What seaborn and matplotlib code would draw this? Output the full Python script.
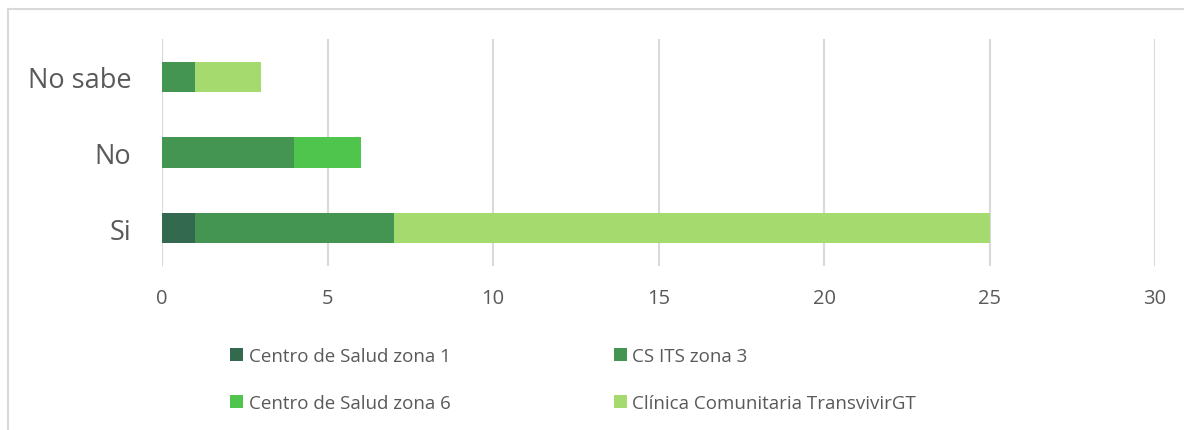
import numpy as np
import pandas as pd
import matplotlib.pyplot as plt
import seaborn as sns
from matplotlib.lines import Line2D
from matplotlib.patches import Patch

categories = ["No sabe", "No", "Si"]
series = ["Centro de Salud zona 1", "CS ITS zona 3", "Centro de Salud zona 6", "Clínica Comunitaria TransvivirGT"]
zona1 = [0, 0, 1]
its3 = [1, 4, 6]
zona6 = [0, 2, 0]
clinica = [2, 0, 18]
colors = ["#33694F", "#439551", "#4FC54D", "#A5DA6E"]
x_ticks = [0, 5, 10, 15, 20, 25, 30]

sns.set_theme(style="white")
plt.rcParams["font.family"] = ["Open Sans", "DejaVu Sans"]

df = pd.DataFrame({"categoria": categories, series[0]: zona1, series[1]: its3,
                   series[2]: zona6, series[3]: clinica})
cum = df[series].cumsum(axis=1)

fig = plt.figure(figsize=(11.84, 4.31), dpi=100)
ax = fig.add_axes([162 / 1184, 1 - 267 / 431, (1155 - 162) / 1184, (267 - 40) / 431])

# stack by drawing cumulative totals, longest first
for name, color in reversed(list(zip(series, colors))):
    plot_df = pd.DataFrame({"categoria": categories, "valor": cum[name]})
    sns.barplot(data=plot_df, x="valor", y="categoria", order=categories, color=color,
                width=0.4, linewidth=0, saturation=1, ax=ax)

ax.set_xlim(0, 30)
ax.set_xticks(x_ticks)
ax.xaxis.grid(True, color="#D9D9D9", linewidth=1.5)
ax.set_axisbelow(True)
for s in ax.spines.values():
    s.set_visible(False)
ax.set_xlabel("")
ax.set_ylabel("")
ax.tick_params(axis="x", labelsize=14.5, colors="#595959", length=0, pad=16)
ax.tick_params(axis="y", labelsize=19.5, colors="#595959", length=0, pad=22)

handles = [Patch(facecolor=c, edgecolor="none") for c in colors]
order = [0, 2, 1, 3]
fig.legend([handles[i] for i in order], [series[i] for i in order],
           ncol=2, loc="upper left", bbox_to_anchor=(213 / 1184, 1 - 331 / 431),
           frameon=False, fontsize=13.5, labelcolor="#595959", handlelength=0.7,
           handleheight=0.7, handletextpad=0.3, columnspacing=8.7, labelspacing=1.55)

# chart border
fig.add_artist(Line2D([8 / 1184, 1.0], [1 - 10 / 431, 1 - 10 / 431], color="#D9D9D9", linewidth=1.5))
fig.add_artist(Line2D([8 / 1184, 8 / 1184], [0, 1 - 10 / 431], color="#D9D9D9", linewidth=1.5))

fig.savefig("out.png", dpi=100)
